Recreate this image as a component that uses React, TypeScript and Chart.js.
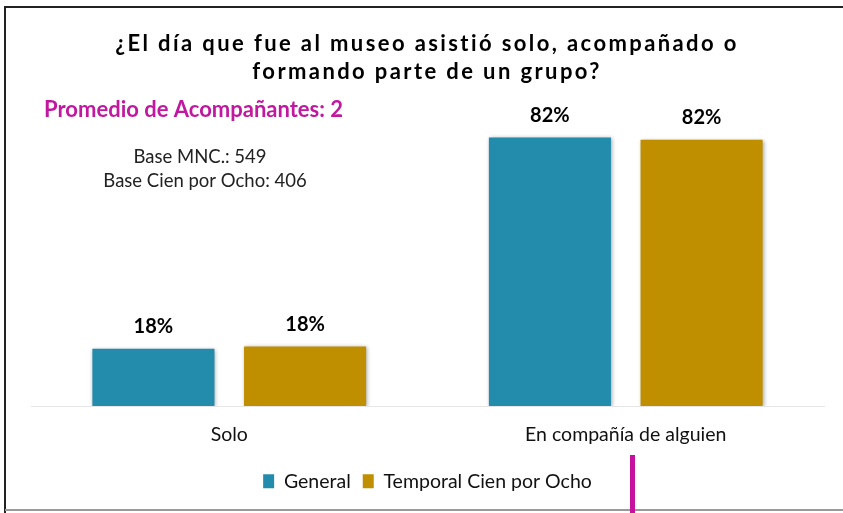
import React, { useEffect, useRef } from "react";
import { Chart, registerables } from "chart.js";

Chart.register(...registerables);

const categories = ["Solo", "En compañía de alguien"];
const seriesNames = ["General", "Temporal Cien por Ocho"];
const generalValues = [17.6, 82.4];
const temporalValues = [18.3, 81.7];
const titleLines = ["¿El día que fue al museo asistió solo, acompañado o", "formando parte de un grupo?"];
const promedioText = "Promedio de Acompañantes: 2";
const baseLines = ["Base MNC.: 549", "Base Cien por Ocho: 406"];

const FONT = "Lato, 'Open Sans', sans-serif";

const decorPlugin = {
  id: "decor",
  beforeDatasetsDraw(chart: any) {
    const ctx = chart.ctx;
    ctx.save();
    ctx.shadowColor = "rgba(0,0,0,0.35)";
    ctx.shadowBlur = 4;
    ctx.shadowOffsetX = 1;
    ctx.shadowOffsetY = 1;
  },
  afterDatasetsDraw(chart: any) {
    const ctx = chart.ctx;
    ctx.restore();
    ctx.save();
    ctx.font = `bold 20px ${FONT}`;
    ctx.fillStyle = "#000";
    ctx.textAlign = "center";
    ctx.textBaseline = "middle";
    chart.data.datasets.forEach((ds: any, i: number) => {
      const meta = chart.getDatasetMeta(i);
      meta.data.forEach((bar: any, j: number) => {
        const v = ds.data[j];
        ctx.fillText(Math.round(v) + "%", bar.x, bar.y - 22);
      });
    });
    ctx.restore();
  },
  afterDraw(chart: any) {
    const ctx = chart.ctx;
    ctx.save();
    ctx.fillStyle = "#000";
    ctx.textAlign = "center";
    ctx.textBaseline = "middle";
    ctx.font = `bold 22px ${FONT}`;
    (ctx as any).letterSpacing = "2.4px";
    ctx.fillText(titleLines[0], 427, 44);
    ctx.fillText(titleLines[1], 427, 72);
    (ctx as any).letterSpacing = "0px";
    ctx.textAlign = "left";
    ctx.fillStyle = "#C0189F";
    ctx.font = `bold 22px ${FONT}`;
    ctx.fillText(promedioText, 44, 110);
    ctx.textAlign = "center";
    ctx.fillStyle = "#222";
    ctx.font = `18.5px ${FONT}`;
    ctx.fillText(baseLines[0], 200, 157);
    ctx.fillText(baseLines[1], 205, 181);
    ctx.strokeStyle = "#222";
    ctx.lineWidth = 2;
    ctx.beginPath();
    ctx.moveTo(5, 513);
    ctx.lineTo(5, 7);
    ctx.lineTo(843, 7);
    ctx.stroke();
    ctx.strokeStyle = "#9a9a9a";
    ctx.beginPath();
    ctx.moveTo(5, 510);
    ctx.lineTo(843, 510);
    ctx.stroke();
    ctx.fillStyle = "#C8109E";
    ctx.fillRect(630, 455, 5, 58);
    ctx.restore();
  },
};

export default function App() {
  const ref = useRef<HTMLCanvasElement>(null);
  useEffect(() => {
    if (!ref.current) return;
    const chart = new Chart(ref.current, {
      type: "bar",
      data: {
        labels: categories,
        datasets: [
          { label: seriesNames[0], data: generalValues, backgroundColor: "#238BAC" },
          { label: seriesNames[1], data: temporalValues, backgroundColor: "#BF8F00" },
        ],
      },
      options: {
        responsive: false,
        animation: false,
        layout: { padding: { left: 31, right: 19, top: 80, bottom: 12 } },
        datasets: { bar: { categoryPercentage: 0.765, barPercentage: 0.805 } },
        scales: {
          x: {
            grid: { display: false },
            border: { display: true, color: "#e6e6e6", width: 1 },
            ticks: { color: "#111", font: { family: FONT, size: 19.5 }, padding: 9 },
            afterFit(scale: any) {
              scale.height += 4;
            },
          },
          y: {
            display: false,
            min: 0,
            max: 100,
          },
        },
        plugins: {
          legend: {
            position: "bottom",
            labels: {
              color: "#111",
              font: { family: FONT, size: 19.5 },
              boxWidth: 11,
              boxHeight: 14,
              padding: 12,
            },
          },
          tooltip: { enabled: false },
          title: { display: false },
        },
      },
      plugins: [decorPlugin],
    });
    return () => chart.destroy();
  }, []);
  return (
    <div style={{ position: "fixed", left: 0, top: 0, width: 843, height: 513, background: "#fff" }}>
      <canvas ref={ref} width={843} height={513} />
    </div>
  );
}
